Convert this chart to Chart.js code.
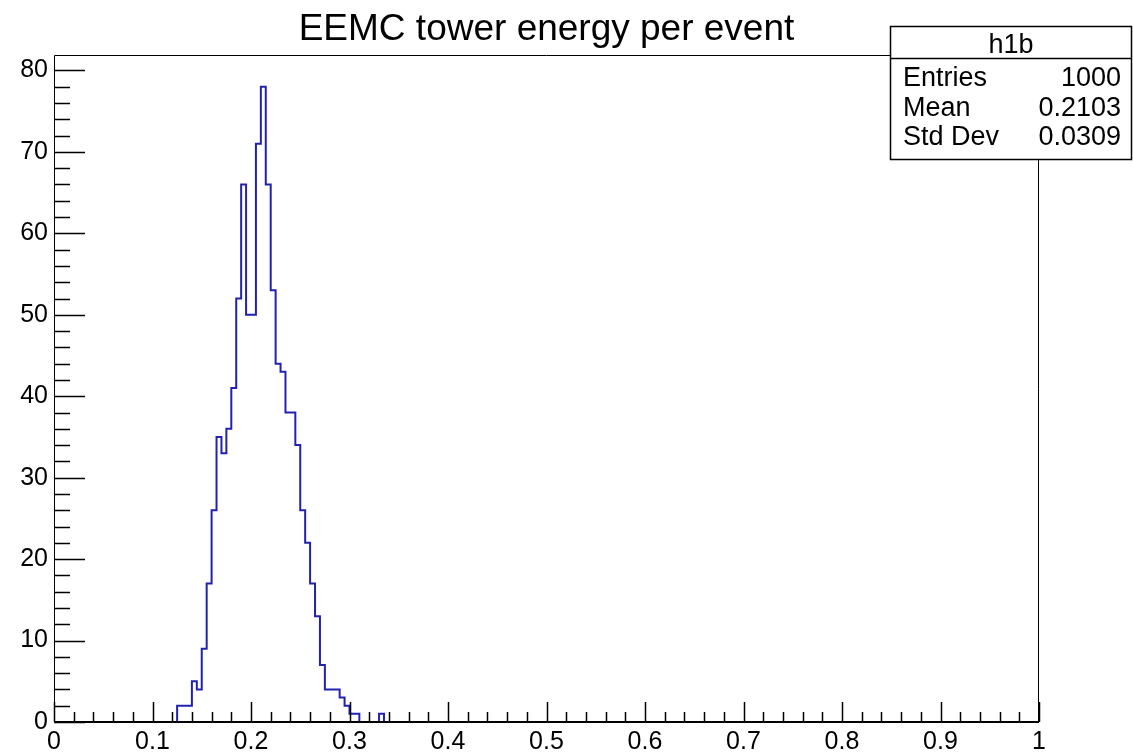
<!DOCTYPE html>
<html><head><meta charset="utf-8">
<script src="https://cdn.jsdelivr.net/npm/chart.js@4.4.1/dist/chart.umd.min.js"></script>
<style>html,body{margin:0;padding:0;background:#fff;}canvas{display:block;}</style>
</head><body>
<canvas id="c" width="1133" height="754"></canvas>
<script>
// ---- data ----
const titleText = 'EEMC tower energy per event';
const histName = 'h1b';
const statLabels = ['Entries', 'Mean', 'Std Dev'];
const statValues = ['1000', '0.2103', '0.0309'];
const xRange = [0, 1];
const yRange = [0, 81.9];
const binWidth = 0.005;
const firstBinLow = 0.125;
// bin contents starting at firstBinLow (0.125 ... 0.335)
const counts = [2, 2, 2, 5, 4, 9, 17, 26, 35, 33, 36, 41, 52, 66, 50, 50, 71, 78, 66, 53,
                44, 43, 38, 38, 34, 26, 22, 17, 13, 7, 4, 4, 4, 3, 2, 1, 1, 0, 0, 0, 0, 1];
const xTickValues = [0, 0.1, 0.2, 0.3, 0.4, 0.5, 0.6, 0.7, 0.8, 0.9, 1];
const xTickLabels = ['0', '0.1', '0.2', '0.3', '0.4', '0.5', '0.6', '0.7', '0.8', '0.9', '1'];
const yTickValues = [0, 10, 20, 30, 40, 50, 60, 70, 80];
const yTickLabels = ['0', '10', '20', '30', '40', '50', '60', '70', '80'];

// ---- build step points ----
const pts = [{x: xRange[0], y: 0}];
counts.forEach((c, i) => pts.push({x: firstBinLow + i * binWidth, y: c}));
pts.push({x: firstBinLow + counts.length * binWidth, y: 0});
pts.push({x: xRange[1], y: 0});

const FONT = '"Liberation Sans", Arial, Helvetica, sans-serif';
Chart.defaults.font.family = FONT;
Chart.defaults.color = '#000';

const rootFrame = {
  id: 'rootFrame',
  afterDatasetsDraw(chart) {
    const ctx = chart.ctx, a = chart.chartArea;
    const xs = chart.scales.x, ys = chart.scales.y;
    ctx.save();
    ctx.strokeStyle = '#000';
    // frame
    ctx.lineWidth = 1;
    ctx.beginPath();
    ctx.moveTo(a.left + 0.5, a.bottom); ctx.lineTo(a.left + 0.5, a.top + 0.5);
    ctx.lineTo(a.right - 0.5, a.top + 0.5); ctx.lineTo(a.right - 0.5, a.bottom);
    ctx.stroke();
    ctx.lineWidth = 2;
    ctx.beginPath();
    ctx.moveTo(a.left, a.bottom); ctx.lineTo(a.right, a.bottom);
    ctx.stroke();
    // x ticks (inside)
    ctx.lineWidth = 1.5;
    ctx.beginPath();
    for (let k = 0; k <= 50; k++) {
      const v = k * 0.02;
      const px = Math.round(xs.getPixelForValue(v)) + 0.5;
      const len = (k % 5 === 0) ? 20 : 10;
      ctx.moveTo(px, a.bottom); ctx.lineTo(px, a.bottom - len);
    }
    ctx.stroke();
    // y ticks (inside)
    ctx.beginPath();
    for (let k = 0; k <= 40; k++) {
      const v = k * 2;
      const py = Math.round(ys.getPixelForValue(v)) + 0.5;
      const len = (k % 5 === 0) ? 31 : 16;
      ctx.moveTo(a.left, py); ctx.lineTo(a.left + len, py);
    }
    ctx.stroke();

    // stats box
    const bx = 890.5, by = 26.5, bw = 241, bh = 133;
    ctx.fillStyle = '#fff';
    ctx.fillRect(bx, by, bw, bh);
    ctx.lineWidth = 1.5;
    ctx.strokeRect(bx, by, bw, bh);
    ctx.beginPath();
    ctx.moveTo(bx, 58.5); ctx.lineTo(bx + bw, 58.5);
    ctx.stroke();
    ctx.fillStyle = '#000';
    ctx.font = '27px ' + FONT;
    ctx.textBaseline = 'alphabetic';
    ctx.textAlign = 'center';
    ctx.fillText(histName, bx + bw / 2, 53);
    const rowsY = [86, 116, 145];
    statLabels.forEach((l, i) => {
      ctx.textAlign = 'left';
      ctx.fillText(l, 903, rowsY[i]);
      ctx.textAlign = 'right';
      ctx.fillText(statValues[i], 1121, rowsY[i]);
    });
    ctx.restore();
  }
};

new Chart(document.getElementById('c'), {
  type: 'line',
  data: {
    datasets: [{
      data: pts,
      stepped: 'before',
      borderColor: '#2222b0',
      borderWidth: 2,
      pointRadius: 0,
      fill: false,
      tension: 0
    }]
  },
  options: {
    responsive: false,
    animation: false,
    events: [],
    layout: {padding: {left: 0, right: 94, top: 0, bottom: 0}},
    plugins: {
      legend: {display: false},
      tooltip: {enabled: false},
      title: {
        display: true, text: titleText, fullSize: false,
        font: {size: 37, weight: 'normal', lineHeight: 1.2},
        color: '#000', padding: {top: 8, bottom: 2.6}
      }
    },
    scales: {
      x: {
        type: 'linear', min: xRange[0], max: xRange[1],
        grid: {display: false, drawTicks: false},
        border: {display: false},
        afterBuildTicks: s => { s.ticks = xTickValues.map(v => ({value: v})); },
        afterFit: s => { s.height = 32; },
        ticks: {
          autoSkip: false, maxRotation: 0, padding: 5,
          font: {size: 25},
          callback: (v, i) => xTickLabels[i]
        }
      },
      y: {
        type: 'linear', min: yRange[0], max: yRange[1],
        grid: {display: false, drawTicks: false},
        border: {display: false},
        afterBuildTicks: s => { s.ticks = yTickValues.map(v => ({value: v})); },
        afterFit: s => { s.width = 54; },
        ticks: {
          autoSkip: false, padding: 6,
          font: {size: 25},
          callback: (v, i) => yTickLabels[i]
        }
      }
    }
  },
  plugins: [rootFrame]
});
</script>
</body></html>
